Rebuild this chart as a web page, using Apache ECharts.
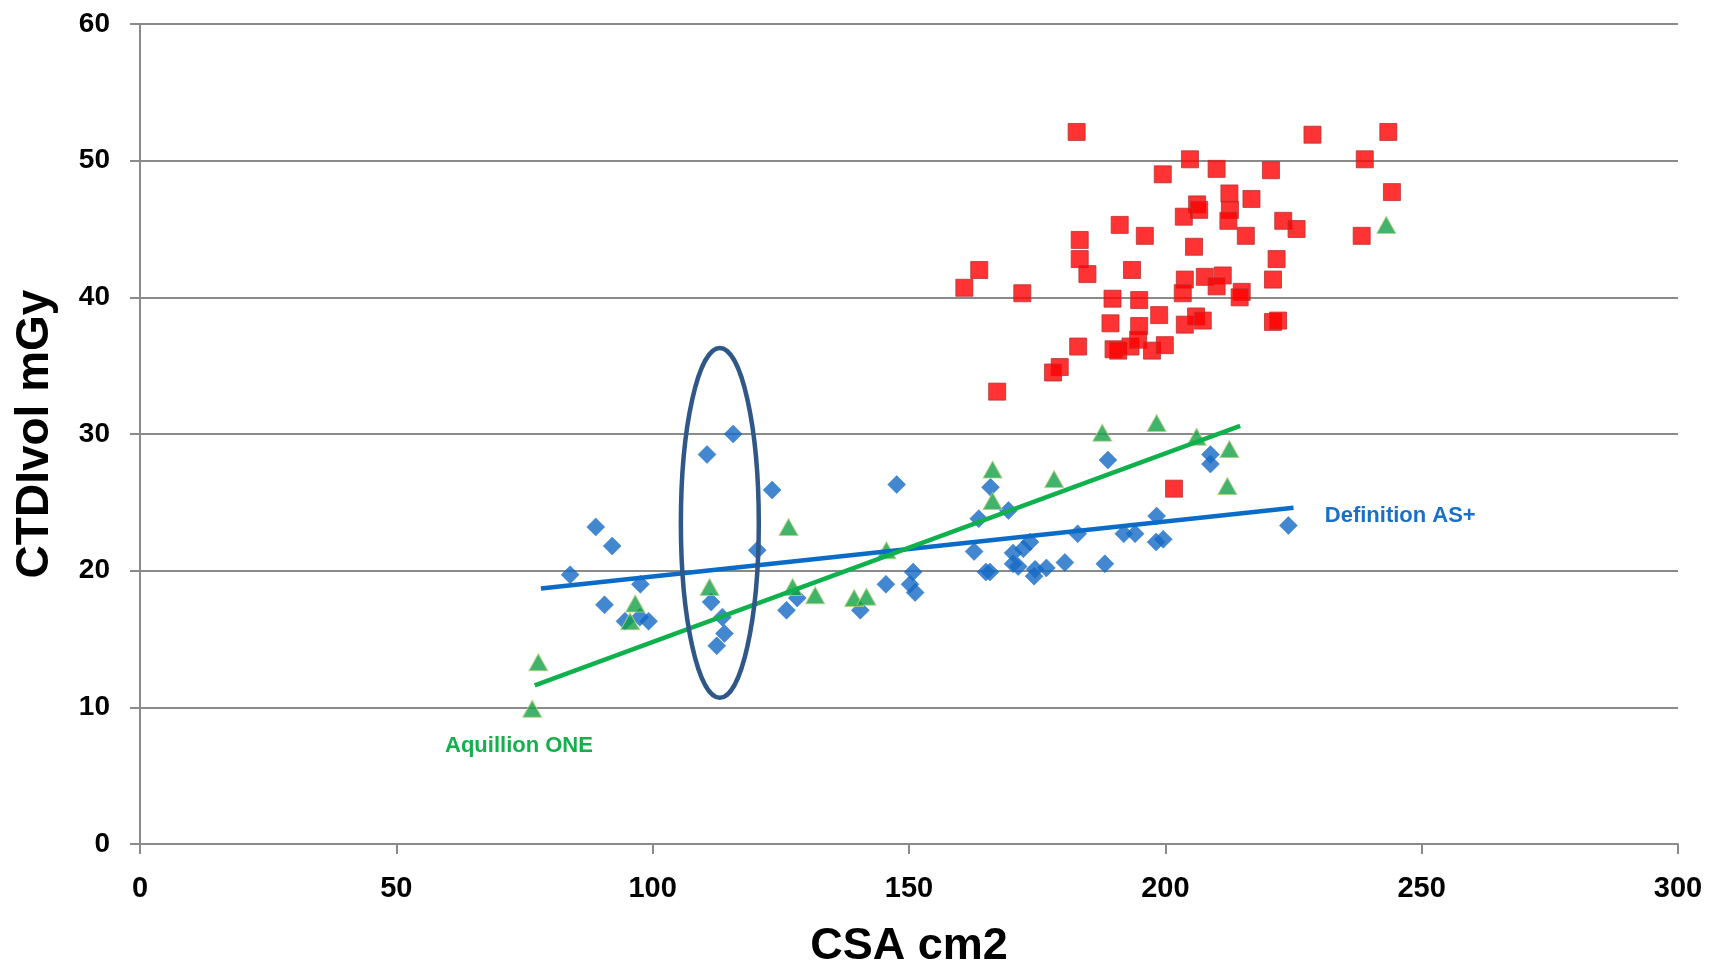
<!DOCTYPE html>
<html>
<head>
<meta charset="utf-8">
<title>CTDIvol vs CSA</title>
<script src="https://cdn.jsdelivr.net/npm/echarts@6/dist/echarts.min.js"></script>
<style>
  html, body { margin: 0; padding: 0; background: #fff; }
  #chart { width: 1709px; height: 974px; }
</style>
</head>
<body>
<div id="chart"></div>
<script>
// [CSA cm2, CTDIvol mGy]
const definitionAS = [
  [115.7, 30.0], [110.6, 28.5], [123.3, 25.9], [147.6, 26.3], [88.9, 23.2], [92.1, 21.8],
  [120.4, 21.5], [83.9, 19.7], [97.6, 19.0], [90.6, 17.5], [111.4, 17.7], [94.6, 16.3],
  [97.5, 16.6], [99.2, 16.3], [113.6, 16.6], [114.0, 15.4], [112.5, 14.5], [126.1, 17.1],
  [128.2, 18.0], [140.5, 17.1], [145.5, 19.0], [150.8, 19.9], [150.2, 19.0], [151.2, 18.4],
  [165.9, 26.1], [188.8, 28.1], [208.8, 28.5], [208.8, 27.8], [163.6, 23.8], [169.4, 24.4],
  [198.3, 24.0], [224.0, 23.3], [162.7, 21.4], [173.6, 22.1], [172.3, 21.6], [170.3, 21.3],
  [182.9, 22.7], [191.9, 22.7], [194.1, 22.7], [198.2, 22.1], [199.6, 22.3], [165.0, 19.9],
  [165.8, 19.9], [170.3, 20.5], [171.3, 20.3], [174.6, 20.1], [174.4, 19.6], [176.8, 20.2],
  [180.4, 20.6], [188.2, 20.5]
];

const aquillionOne = [
  [126.5, 23.2], [145.6, 21.5], [111.1, 18.8], [127.3, 18.8], [131.7, 18.2], [139.3, 18.0],
  [141.7, 18.1], [96.6, 17.6], [95.6, 16.3], [77.7, 13.3], [76.5, 9.9], [166.3, 27.4],
  [166.3, 25.1], [178.3, 26.7], [187.7, 30.1], [198.3, 30.8], [206.1, 29.8], [212.5, 28.9],
  [212.1, 26.2], [243.1, 45.3]
];

const otherScanner = [
  [182.7, 52.1], [228.7, 51.9], [243.5, 52.1], [204.8, 50.1], [238.9, 50.1], [199.5, 49.0],
  [210.0, 49.4], [220.6, 49.3], [244.2, 47.7], [212.5, 47.6], [216.8, 47.2], [206.2, 46.8],
  [206.6, 46.4], [212.6, 46.4], [203.6, 45.9], [212.3, 45.6], [191.1, 45.3], [196.0, 44.5],
  [223.0, 45.6], [225.6, 45.0], [215.7, 44.5], [238.3, 44.5], [183.3, 44.2], [205.6, 43.7],
  [183.3, 42.8], [221.7, 42.8], [163.7, 42.0], [184.8, 41.7], [193.5, 42.0], [160.8, 40.7],
  [172.1, 40.3], [203.8, 41.3], [207.7, 41.5], [211.2, 41.6], [210.0, 40.8], [221.0, 41.3],
  [203.4, 40.3], [214.9, 40.4], [214.5, 40.0], [189.7, 39.9], [194.9, 39.8], [189.3, 38.1],
  [194.9, 37.9], [198.8, 38.7], [203.8, 38.0], [206.0, 38.6], [207.3, 38.3], [221.0, 38.2],
  [222.0, 38.3], [183.0, 36.4], [189.9, 36.2], [190.8, 36.1], [193.2, 36.4], [194.7, 36.9],
  [197.4, 36.1], [199.9, 36.5], [179.4, 34.9], [178.1, 34.5], [167.2, 33.1], [201.7, 26.0]
];

// trend line end points
const definitionTrend = [[78.2, 18.7], [225.0, 24.6]];
const aquillionTrend = [[77.0, 11.6], [214.6, 30.6]];

// text labels and the hand drawn ellipse, in data units
const definitionLabelAt = [231.1, 24.0];
const aquillionLabelAt = [59.5, 7.2];
const ellipseAt = { cx: 113.1, cy: 23.5, rx: 7.6, ry: 12.8 };

const font = 'Liberation Sans, Arial, sans-serif';
const gridColor = '#8a8a8a';

const options = {
  backgroundColor: '#fff',
  animation: false,
  grid: { left: 140, right: 31, top: 24, bottom: 129 },
  xAxis: {
    type: 'value',
    min: 0,
    max: 300,
    interval: 50,
    name: 'CSA cm2',
    nameLocation: 'middle',
    nameGap: 80,
    nameTextStyle: { fontFamily: font, fontWeight: 'bold', fontSize: 45, color: '#000' },
    axisLine: { lineStyle: { color: gridColor, width: 2 } },
    axisTick: { show: true, length: 10, lineStyle: { color: gridColor, width: 2 } },
    axisLabel: { margin: 30, fontFamily: font, fontWeight: 'bold', fontSize: 29, color: '#000' },
    splitLine: { show: false }
  },
  yAxis: {
    type: 'value',
    min: 0,
    max: 60,
    interval: 10,
    name: 'CTDIvol mGy',
    nameLocation: 'middle',
    nameGap: 82,
    nameTextStyle: { fontFamily: font, fontWeight: 'bold', fontSize: 46, color: '#000' },
    axisLine: { show: true, lineStyle: { color: gridColor, width: 2 } },
    axisTick: { show: true, length: 10, lineStyle: { color: gridColor, width: 2 } },
    axisLabel: { margin: 30, fontFamily: font, fontWeight: 'bold', fontSize: 28, color: '#000' },
    splitLine: { show: true, lineStyle: { color: gridColor, width: 2 } }
  },
  series: [
    {
      name: 'Other',
      type: 'scatter',
      symbol: 'rect',
      symbolSize: 17,
      data: otherScanner,
      itemStyle: { color: '#ff0000', borderColor: '#b83232', borderWidth: 1 },
      z: 2
    },
    {
      name: 'Definition AS+',
      type: 'scatter',
      symbol: 'diamond',
      symbolSize: 18,
      data: definitionAS,
      itemStyle: { color: '#1469c4', borderColor: '#1469c4', borderWidth: 0.5 },
      z: 3
    },
    {
      name: 'Aquillion ONE',
      type: 'scatter',
      symbol: 'triangle',
      symbolSize: [19, 17],
      data: aquillionOne,
      itemStyle: { color: '#12a047', borderColor: '#b6cf7a', borderWidth: 1 },
      z: 4
    },
    {
      name: 'Definition AS+ trend',
      type: 'line',
      data: definitionTrend,
      symbol: 'none',
      lineStyle: { color: '#0a6cc7', width: 4.5 },
      z: 5
    },
    {
      name: 'Aquillion ONE trend',
      type: 'line',
      data: aquillionTrend,
      symbol: 'none',
      lineStyle: { color: '#0fb14c', width: 4.5 },
      z: 5
    }
  ]
};

const chart = echarts.init(document.getElementById('chart'));
chart.setOption(options);

// ellipse and labels go where the axes put them
const c = chart.convertToPixel({ gridIndex: 0 }, [ellipseAt.cx, ellipseAt.cy]);
const e = chart.convertToPixel({ gridIndex: 0 }, [ellipseAt.cx + ellipseAt.rx, ellipseAt.cy + ellipseAt.ry]);
const dLabel = chart.convertToPixel({ gridIndex: 0 }, definitionLabelAt);
const aLabel = chart.convertToPixel({ gridIndex: 0 }, aquillionLabelAt);

chart.setOption({
  graphic: [
    {
      type: 'ellipse',
      shape: { cx: c[0], cy: c[1], rx: Math.abs(e[0] - c[0]), ry: Math.abs(c[1] - e[1]) },
      style: { fill: 'none', stroke: '#2f5788', lineWidth: 4.5 },
      z: 10
    },
    {
      type: 'text',
      x: dLabel[0],
      y: dLabel[1],
      style: {
        text: 'Definition AS+',
        fill: '#1a6fc6',
        font: 'bold 22px ' + font,
        textAlign: 'left',
        textVerticalAlign: 'middle'
      },
      z: 10
    },
    {
      type: 'text',
      x: aLabel[0],
      y: aLabel[1],
      style: {
        text: 'Aquillion ONE',
        fill: '#13b04b',
        font: 'bold 22px ' + font,
        textAlign: 'left',
        textVerticalAlign: 'middle'
      },
      z: 10
    }
  ]
});

window.addEventListener('resize', () => {
  chart.resize();
});
</script>
</body>
</html>
